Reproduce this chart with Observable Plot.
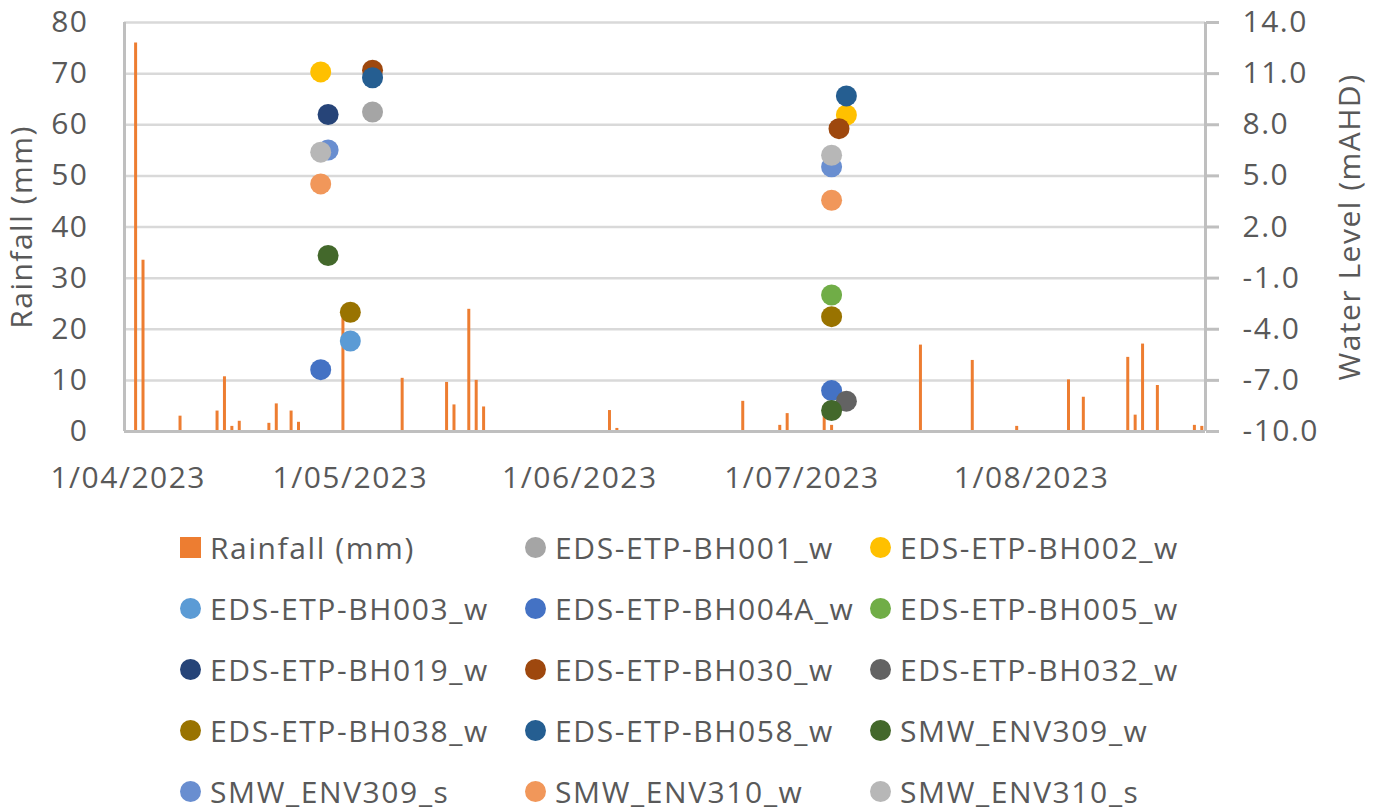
<!DOCTYPE html>
<html>
<head>
<meta charset="utf-8">
<script src="https://cdn.jsdelivr.net/npm/d3@7"></script>
<script src="https://cdn.jsdelivr.net/npm/@observablehq/plot@0.6"></script>
<style>
  html, body { margin: 0; padding: 0; background: #ffffff; }
  #chart svg { display: block; }
  #legend {
    display: grid;
    grid-template-columns: repeat(3, 345px);
    padding-left: 179.5px;
    margin-top: 7px;
    font-family: "Open Sans", sans-serif;
    font-size: 30px;
    letter-spacing: 1.6px;
    color: #595959;
  }
  .item { display: flex; align-items: center; height: 61px; white-space: nowrap; }
  .mk { width: 21px; height: 21px; margin-right: 9.5px; flex: none; }
</style>
</head>
<body>
<div id="chart"></div>
<div id="legend"></div>
<script>
// ---------- Data ----------
const rainLabel = "Rainfall (mm)";
const rainColor = "#ED7D31";
const rainDates = [
  "2023-04-02","2023-04-03","2023-04-08","2023-04-13","2023-04-14","2023-04-15","2023-04-16",
  "2023-04-20","2023-04-21","2023-04-22","2023-04-23","2023-04-24","2023-04-25","2023-04-30",
  "2023-05-08","2023-05-14","2023-05-15","2023-05-17","2023-05-18","2023-05-19",
  "2023-06-05","2023-06-06","2023-06-08","2023-06-23","2023-06-28","2023-06-29",
  "2023-07-04","2023-07-05","2023-07-17","2023-07-18","2023-07-24","2023-07-30",
  "2023-08-06","2023-08-08","2023-08-14","2023-08-15","2023-08-16","2023-08-17","2023-08-18",
  "2023-08-23","2023-08-24"
];
const rainMM = [
  76.0, 33.5, 3.0, 4.0, 10.7, 1.0, 2.0,
  1.6, 5.4, 0.2, 4.0, 1.8, 0.2, 22.5,
  10.4, 9.6, 5.2, 23.9, 10.0, 4.8,
  4.1, 0.6, 0.2, 5.9, 1.2, 3.5,
  5.0, 1.2, 16.9, 0.2, 13.9, 1.0,
  10.1, 6.7, 14.5, 3.2, 17.1, 0.2, 9.0,
  1.2, 1.0
];

const seriesNames = [
  "EDS-ETP-BH001_w","EDS-ETP-BH002_w","EDS-ETP-BH003_w","EDS-ETP-BH004A_w","EDS-ETP-BH005_w",
  "EDS-ETP-BH019_w","EDS-ETP-BH030_w","EDS-ETP-BH032_w","EDS-ETP-BH038_w","EDS-ETP-BH058_w",
  "SMW_ENV309_w","SMW_ENV309_s","SMW_ENV310_w","SMW_ENV310_s"
];
const seriesColors = [
  "#A5A5A5","#FFC000","#5B9BD5","#4472C4","#70AD47",
  "#264478","#9E480E","#636363","#997300","#255E91",
  "#43682B","#698ED0","#F1975A","#B7B7B7"
];

// water level observations (mAHD), grouped by series in legend order
const obsSeries = [
  "EDS-ETP-BH001_w",
  "EDS-ETP-BH002_w","EDS-ETP-BH002_w",
  "EDS-ETP-BH003_w",
  "EDS-ETP-BH004A_w","EDS-ETP-BH004A_w",
  "EDS-ETP-BH005_w",
  "EDS-ETP-BH019_w",
  "EDS-ETP-BH030_w","EDS-ETP-BH030_w",
  "EDS-ETP-BH032_w",
  "EDS-ETP-BH038_w","EDS-ETP-BH038_w",
  "EDS-ETP-BH058_w","EDS-ETP-BH058_w",
  "SMW_ENV309_w","SMW_ENV309_w",
  "SMW_ENV309_s","SMW_ENV309_s",
  "SMW_ENV310_w","SMW_ENV310_w",
  "SMW_ENV310_s","SMW_ENV310_s"
];
const obsDates = [
  "2023-05-04",
  "2023-04-27","2023-07-07",
  "2023-05-01",
  "2023-04-27","2023-07-05",
  "2023-07-05",
  "2023-04-28",
  "2023-05-04","2023-07-06",
  "2023-07-07",
  "2023-05-01","2023-07-05",
  "2023-05-04","2023-07-07",
  "2023-04-28","2023-07-05",
  "2023-04-28","2023-07-05",
  "2023-04-27","2023-07-05",
  "2023-04-27","2023-07-05"
];
const obsLevels = [
  8.75,
  11.1, 8.57,
  -4.69,
  -6.37, -7.6,
  -1.99,
  8.6,
  11.2, 7.77,
  -8.22,
  -3.0, -3.26,
  10.76, 9.69,
  0.33, -8.77,
  6.52, 5.53,
  4.53, 3.57,
  6.39, 6.21
];

const rainTicks = [0, 10, 20, 30, 40, 50, 60, 70, 80];
const levelTicks = [-10, -7, -4, -1, 2, 5, 8, 11, 14];
const dateTicks = ["2023-04-01","2023-05-01","2023-06-01","2023-07-01","2023-08-01"];
const axisFirstDay = "2023-04-01";
const axisLastDay = "2023-08-24";
const leftTitle = "Rainfall (mm)";
const rightTitle = "Water Level (mAHD)";

// ---------- Build ----------
const parse = d3.utcParse("%Y-%m-%d");
const halfDay = 12 * 3600 * 1000;
const xStart = new Date(+parse(axisFirstDay) - halfDay);
const xEnd = new Date(+parse(axisLastDay) + halfDay);

const rain = rainDates.map((d, i) => ({date: parse(d), mm: rainMM[i]}));
const obs = obsDates.map((d, i) => ({date: parse(d), level: obsLevels[i], series: obsSeries[i]}));

const rMin = rainTicks[0], rMax = rainTicks[rainTicks.length - 1];
const lMin = levelTicks[0], lMax = levelTicks[levelTicks.length - 1];
const levelToRain = v => rMin + (v - lMin) * (rMax - rMin) / (lMax - lMin);

const W = 1380, H = 510;
const axisGray = "#BFBFBF";

const chart = Plot.plot({
  width: W,
  height: H,
  marginTop: 22,
  marginBottom: 79,
  marginLeft: 124,
  marginRight: 175,
  style: {
    fontFamily: "'Open Sans', sans-serif",
    fontSize: "30px",
    letterSpacing: "1.5px",
    color: "#595959",
    background: "#ffffff"
  },
  x: {type: "utc", domain: [xStart, xEnd]},
  y: {domain: [rMin, rMax]},
  color: {domain: seriesNames, range: seriesColors},
  marks: [
    Plot.gridY(rainTicks, {stroke: "#D9D9D9", strokeOpacity: 1, strokeWidth: 2.5}),
    Plot.ruleX(rain, {x: "date", y1: 0, y2: "mm", stroke: rainColor, strokeWidth: 3}),
    Plot.ruleY([rMin], {stroke: axisGray, strokeWidth: 3}),
    Plot.ruleX([xStart], {stroke: axisGray, strokeWidth: 3}),
    Plot.ruleX([xEnd], {stroke: axisGray, strokeWidth: 3}),
    Plot.dot(obs, {x: "date", y: d => levelToRain(d.level), r: 10.5, fill: "series", stroke: null}),
    Plot.axisY(rainTicks, {anchor: "left", tickSize: 0, tickPadding: 36, label: null}),
    Plot.axisY(rainTicks, {
      anchor: "right", tickSize: 13, tickPadding: 24, label: null,
      stroke: axisGray, strokeWidth: 3, strokeOpacity: 1,
      tickFormat: d => (lMin + (d - rMin) * (lMax - lMin) / (rMax - rMin)).toFixed(1)
    }),
    Plot.axisX(dateTicks.map(parse), {
      anchor: "bottom", tickSize: 0, tickPadding: 35, label: null,
      tickFormat: d3.utcFormat("%-d/%m/%Y")
    }),
    Plot.text([leftTitle], {frameAnchor: "left", textAnchor: "middle", lineAnchor: "middle", rotate: -90, dx: -102}),
    Plot.text([rightTitle], {frameAnchor: "right", textAnchor: "middle", lineAnchor: "middle", rotate: -90, dx: 145})
  ]
});
document.getElementById("chart").appendChild(chart);

// ---------- Legend ----------
const legend = document.getElementById("legend");
const entries = [{name: rainLabel, color: rainColor, square: true}]
  .concat(seriesNames.map((n, i) => ({name: n, color: seriesColors[i], square: false})));
for (const e of entries) {
  const item = document.createElement("div");
  item.className = "item";
  const mk = document.createElement("span");
  mk.className = "mk";
  mk.style.background = e.color;
  mk.style.borderRadius = e.square ? "0" : "50%";
  const label = document.createElement("span");
  label.textContent = e.name;
  item.appendChild(mk);
  item.appendChild(label);
  legend.appendChild(item);
}
</script>
</body>
</html>
